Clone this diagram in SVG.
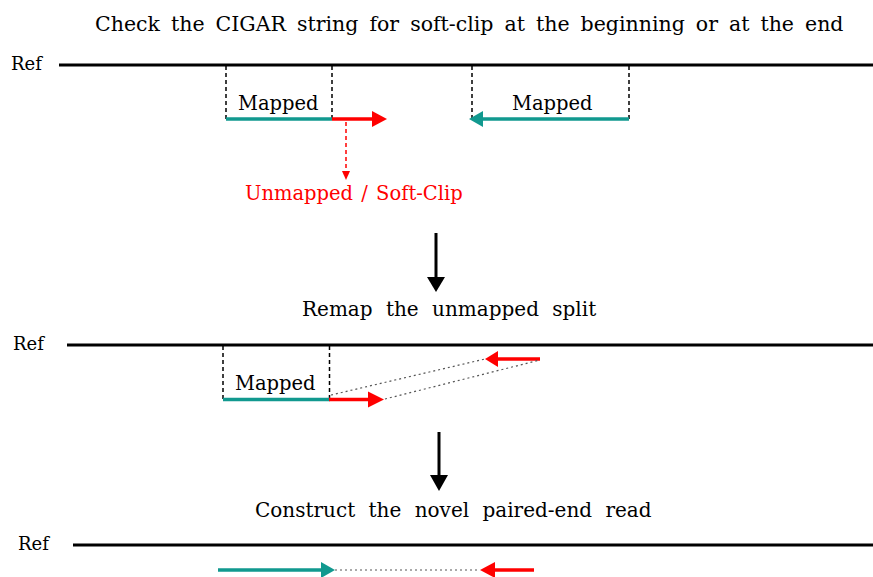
<svg xmlns="http://www.w3.org/2000/svg" width="873" height="577" viewBox="0 0 873 577">
<style>
text{font-family:"DejaVu Serif","Liberation Serif",serif;fill:#000}
.title{font-size:20.5px;word-spacing:4.5px}
.head{font-size:20px;word-spacing:7px}
.ref{font-size:18px}
.lbl{font-size:19.5px}
.red{fill:#ff0000;word-spacing:2px}
.refline{stroke:#000;stroke-width:3;fill:none}
.dash{stroke:#000;stroke-width:1.5;stroke-dasharray:4 3;fill:none}
.teal{stroke:#11998f;stroke-width:3.5;fill:none}
.redl{stroke:#ff0000;stroke-width:3.5;fill:none}
.dot{stroke:#555;stroke-width:1.2;stroke-dasharray:2 3;fill:none}
.tealf{fill:#11998f}
.redf{fill:#ff0000}
.blk{stroke:#000;stroke-width:3;fill:none}
</style>
<rect width="873" height="577" fill="#fff"/>

<g id="step1">
  <text class="title" x="95" y="31">Check the CIGAR string for soft-clip at the beginning or at the end</text>
  <text class="ref" x="11" y="70">Ref</text>
  <line class="refline" x1="59" y1="65" x2="873" y2="65"/>
</g>
<g id="read1-left">
  <line class="dash" x1="226" y1="66" x2="226" y2="119"/>
  <line class="dash" x1="332" y1="66" x2="332" y2="119"/>
  <text class="lbl" x="238" y="110">Mapped</text>
  <line class="teal" x1="226" y1="119" x2="332" y2="119"/>
  <line class="redl" x1="332" y1="119" x2="374" y2="119"/>
  <polygon class="redf" points="372,111 387,119 372,127"/>
</g>
<g id="softclip-label">
  <line stroke="#ff0000" stroke-width="1.5" stroke-dasharray="4 3" x1="346" y1="122" x2="346" y2="171"/>
  <polygon class="redf" points="342,171 346,180 350,171"/>
  <text class="lbl red" x="245" y="200">Unmapped / Soft-Clip</text>
</g>
<g id="read1-right">
  <line class="dash" x1="472" y1="66" x2="472" y2="119"/>
  <line class="dash" x1="629" y1="66" x2="629" y2="119"/>
  <text class="lbl" x="512" y="110">Mapped</text>
  <line class="teal" x1="481" y1="119" x2="629" y2="119"/>
  <polygon class="tealf" points="483,111 469,119 483,127"/>
</g>

<g id="connectors">
  <line class="blk" x1="436" y1="233" x2="436" y2="278"/>
  <polygon fill="#000" points="427,277 445,277 436,292"/>
  <line class="blk" x1="439" y1="432" x2="439" y2="477"/>
  <polygon fill="#000" points="430,475 448,475 439,491"/>
</g>

<g id="step2">
  <text class="head" x="302" y="316">Remap the unmapped split</text>
  <text class="ref" x="13" y="350">Ref</text>
  <line class="refline" x1="67" y1="345" x2="873" y2="345"/>
</g>
<g id="read2">
  <line class="dash" x1="223" y1="346" x2="223" y2="399"/>
  <line class="dash" x1="329.5" y1="346" x2="329.5" y2="399"/>
  <text class="lbl" x="235" y="390">Mapped</text>
  <line class="teal" x1="223" y1="399.5" x2="330" y2="399.5"/>
  <line class="redl" x1="329" y1="399.5" x2="370" y2="399.5"/>
  <polygon class="redf" points="368,391.5 384,399.5 368,407.5"/>
  <line class="redl" x1="496" y1="359" x2="540" y2="359"/>
  <polygon class="redf" points="498,351 485,359 498,367"/>
  <line class="dot" x1="331" y1="395" x2="485" y2="359"/>
  <line class="dot" x1="385" y1="399" x2="540" y2="360"/>
</g>

<g id="step3">
  <text class="head" x="255" y="517">Construct the novel paired-end read</text>
  <text class="ref" x="18" y="550">Ref</text>
  <line class="refline" x1="73" y1="545" x2="873" y2="545"/>
</g>
<g id="read3">
  <line class="teal" x1="218" y1="570" x2="324" y2="570"/>
  <polygon class="tealf" points="321,562 335,570 321,578"/>
  <line class="dot" x1="335" y1="570" x2="480" y2="570"/>
  <line class="redl" x1="493" y1="570" x2="534" y2="570"/>
  <polygon class="redf" points="495,562 480,570 495,578"/>
</g>
</svg>
